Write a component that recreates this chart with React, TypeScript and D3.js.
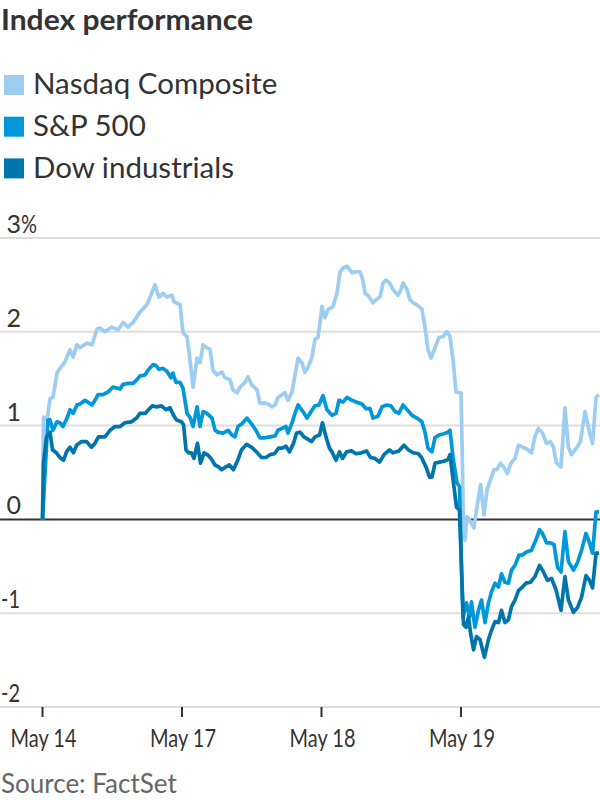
import React from 'react';
import * as d3 from 'd3';

// Trading-day index (0 = May 14 open, 1 = May 17 open, ...) and % change
const dayLabels = ['May 14', 'May 17', 'May 18', 'May 19'];
const dayIndex = [0, 1, 2, 3];
const yTicks = [-2, -1, 0, 1, 2, 3];
const seriesNames = ['Nasdaq Composite', 'S&P 500', 'Dow industrials'];
const seriesColors = ['#9dcdf0', '#0098da', '#0075ab'];

const nasdaq: [number, number][] = [
  [0, 0], [0.007, 1.09], [0.032, 1.06], [0.054, 1.29], [0.075, 1.30], [0.104, 1.56], [0.125, 1.61], [0.161, 1.68], [0.197, 1.81], [0.219, 1.73],
  [0.247, 1.86], [0.269, 1.83], [0.319, 1.88], [0.355, 1.86], [0.391, 2.03], [0.412, 2.04], [0.448, 2.00], [0.498, 2.05], [0.541, 2.02], [0.577, 2.10],
  [0.613, 2.05], [0.649, 2.10], [0.699, 2.21], [0.749, 2.29], [0.785, 2.42], [0.806, 2.50], [0.835, 2.37], [0.864, 2.41], [0.892, 2.37], [0.928, 2.39],
  [0.943, 2.32], [0.986, 2.29],
  [1.007, 1.99], [1.036, 1.95], [1.057, 1.70], [1.079, 1.41], [1.108, 1.72], [1.129, 1.67], [1.151, 1.86], [1.179, 1.83], [1.201, 1.81], [1.222, 1.59],
  [1.251, 1.54], [1.287, 1.57], [1.308, 1.51], [1.344, 1.49], [1.366, 1.38], [1.394, 1.35], [1.416, 1.41], [1.452, 1.46], [1.473, 1.52], [1.502, 1.43],
  [1.538, 1.38], [1.559, 1.24], [1.595, 1.24], [1.616, 1.23], [1.645, 1.20], [1.667, 1.22], [1.688, 1.30], [1.710, 1.32], [1.738, 1.35], [1.760, 1.27],
  [1.789, 1.36], [1.810, 1.54], [1.832, 1.72], [1.860, 1.67], [1.882, 1.57], [1.903, 1.62], [1.932, 1.73], [1.953, 1.92], [1.975, 1.94],
  [2.004, 2.27], [2.025, 2.15], [2.047, 2.24], [2.061, 2.25], [2.082, 2.27], [2.111, 2.41], [2.133, 2.64], [2.154, 2.68], [2.183, 2.70], [2.219, 2.63],
  [2.247, 2.64], [2.276, 2.64], [2.297, 2.55], [2.312, 2.41], [2.333, 2.39], [2.369, 2.31], [2.398, 2.35], [2.419, 2.37], [2.441, 2.52], [2.462, 2.55],
  [2.484, 2.53], [2.513, 2.45], [2.548, 2.39], [2.570, 2.45], [2.584, 2.52], [2.613, 2.45], [2.634, 2.34], [2.656, 2.31], [2.692, 2.28], [2.720, 2.24],
  [2.742, 2.05], [2.763, 1.81], [2.785, 1.72], [2.814, 1.83], [2.842, 1.94], [2.871, 1.95], [2.900, 2.00], [2.921, 1.95], [2.943, 1.70], [2.964, 1.36],
  [2.986, 1.35],
  [3.000, 1.35], [3.011, 0.54], [3.018, -0.19], [3.029, -0.22], [3.043, 0.03], [3.054, 0.01], [3.075, -0.04], [3.093, -0.09], [3.111, 0.10], [3.140, 0.37],
  [3.165, 0.05], [3.186, 0.31], [3.211, 0.42], [3.236, 0.53], [3.258, 0.53], [3.283, 0.60], [3.305, 0.56], [3.333, 0.49], [3.348, 0.56], [3.362, 0.61],
  [3.387, 0.65], [3.412, 0.79], [3.441, 0.77], [3.473, 0.75], [3.505, 0.71], [3.530, 0.88], [3.555, 0.97], [3.584, 0.92], [3.613, 0.81], [3.641, 0.83],
  [3.663, 0.77], [3.684, 0.60], [3.717, 0.56], [3.745, 1.19], [3.770, 0.77], [3.792, 0.69], [3.828, 0.76], [3.856, 0.83], [3.889, 1.15], [3.921, 0.93],
  [3.943, 0.81], [3.968, 1.30], [3.989, 1.33],
];

const sp500: [number, number][] = [
  [0, 0], [0.039, 1.06], [0.054, 1.06], [0.075, 0.95], [0.104, 1.04], [0.125, 1.03], [0.147, 0.99], [0.176, 1.08], [0.197, 1.17], [0.219, 1.13],
  [0.247, 1.22], [0.269, 1.23], [0.305, 1.27], [0.326, 1.25], [0.355, 1.22], [0.376, 1.27], [0.398, 1.33], [0.434, 1.33], [0.470, 1.36], [0.505, 1.41],
  [0.534, 1.40], [0.556, 1.39], [0.577, 1.44], [0.613, 1.45], [0.649, 1.45], [0.677, 1.49], [0.699, 1.53], [0.735, 1.54], [0.756, 1.59], [0.792, 1.65],
  [0.814, 1.64], [0.835, 1.60], [0.864, 1.61], [0.892, 1.58], [0.921, 1.51], [0.935, 1.56], [0.957, 1.46], [0.986, 1.46],
  [1.007, 1.40], [1.036, 1.13], [1.057, 1.09], [1.079, 0.99], [1.108, 1.20], [1.129, 0.99], [1.151, 1.15], [1.179, 1.13], [1.215, 1.08], [1.237, 0.95],
  [1.258, 0.93], [1.294, 0.92], [1.330, 0.95], [1.358, 0.90], [1.380, 0.88], [1.401, 0.99], [1.430, 1.02], [1.466, 1.08], [1.502, 1.01], [1.530, 0.95],
  [1.559, 0.87], [1.595, 0.87], [1.631, 0.88], [1.667, 0.89], [1.688, 0.95], [1.717, 0.97], [1.745, 0.99], [1.760, 0.92], [1.789, 1.03], [1.810, 1.13],
  [1.832, 1.22], [1.867, 1.15], [1.896, 1.08], [1.925, 1.15], [1.953, 1.21], [1.982, 1.22],
  [2.011, 1.32], [2.039, 1.17], [2.075, 1.11], [2.104, 1.13], [2.125, 1.27], [2.154, 1.25], [2.183, 1.30], [2.218, 1.27], [2.254, 1.25], [2.290, 1.23],
  [2.319, 1.18], [2.348, 1.18], [2.369, 1.08], [2.405, 1.10], [2.434, 1.20], [2.469, 1.22], [2.498, 1.21], [2.527, 1.15], [2.555, 1.13], [2.584, 1.22],
  [2.613, 1.17], [2.649, 1.11], [2.684, 1.08], [2.720, 1.04], [2.742, 0.93], [2.763, 0.76], [2.792, 0.72], [2.813, 0.87], [2.842, 0.90], [2.871, 0.91],
  [2.907, 0.93], [2.921, 0.95], [2.943, 0.66], [2.971, 0.39], [2.989, 0.35],
  [3.004, -0.54], [3.014, -1.04], [3.039, -0.89], [3.061, -1.04], [3.075, -0.88], [3.100, -1.15], [3.125, -0.97], [3.147, -0.86], [3.172, -1.10], [3.197, -0.89],
  [3.219, -0.77], [3.244, -0.68], [3.269, -0.72], [3.290, -0.58], [3.315, -0.67], [3.340, -0.68], [3.362, -0.54], [3.387, -0.49], [3.416, -0.38], [3.441, -0.38],
  [3.466, -0.35], [3.505, -0.33], [3.537, -0.22], [3.563, -0.11], [3.584, -0.15], [3.613, -0.25], [3.641, -0.25], [3.667, -0.27], [3.692, -0.51], [3.717, -0.56],
  [3.745, -0.13], [3.770, -0.45], [3.806, -0.54], [3.835, -0.46], [3.864, -0.33], [3.896, -0.15], [3.921, -0.25], [3.943, -0.36], [3.968, 0.08], [3.989, 0.08],
];

const dow: [number, number][] = [
  [0, 0], [0.007, 0.60], [0.029, 0.88], [0.054, 0.93], [0.072, 0.74], [0.100, 0.71], [0.125, 0.66], [0.151, 0.63], [0.172, 0.72], [0.197, 0.77],
  [0.222, 0.71], [0.244, 0.79], [0.280, 0.83], [0.315, 0.83], [0.351, 0.77], [0.376, 0.81], [0.401, 0.88], [0.448, 0.88], [0.484, 0.95], [0.520, 0.99],
  [0.556, 0.99], [0.591, 1.03], [0.638, 1.04], [0.674, 1.08], [0.699, 1.13], [0.735, 1.13], [0.760, 1.17], [0.788, 1.21], [0.817, 1.20], [0.853, 1.21],
  [0.885, 1.17], [0.914, 1.19], [0.939, 1.11], [0.961, 1.06], [0.996, 1.04],
  [1.011, 1.01], [1.029, 0.74], [1.047, 0.71], [1.068, 0.71], [1.086, 0.65], [1.111, 0.81], [1.133, 0.60], [1.158, 0.71], [1.183, 0.69], [1.208, 0.65],
  [1.237, 0.58], [1.262, 0.56], [1.283, 0.53], [1.315, 0.56], [1.340, 0.58], [1.369, 0.53], [1.405, 0.65], [1.426, 0.74], [1.462, 0.80], [1.498, 0.77],
  [1.534, 0.72], [1.570, 0.66], [1.602, 0.66], [1.631, 0.69], [1.663, 0.70], [1.692, 0.76], [1.720, 0.76], [1.745, 0.78], [1.770, 0.72], [1.799, 0.81],
  [1.821, 0.92], [1.846, 0.93], [1.874, 0.88], [1.907, 0.85], [1.928, 0.83], [1.953, 0.88], [1.986, 0.90],
  [2.007, 1.03], [2.032, 0.88], [2.057, 0.76], [2.075, 0.72], [2.104, 0.63], [2.129, 0.72], [2.151, 0.65], [2.179, 0.72], [2.215, 0.73], [2.247, 0.70],
  [2.287, 0.71], [2.323, 0.73], [2.351, 0.66], [2.383, 0.65], [2.416, 0.61], [2.448, 0.69], [2.487, 0.74], [2.512, 0.71], [2.555, 0.73], [2.591, 0.79],
  [2.624, 0.74], [2.659, 0.71], [2.695, 0.70], [2.717, 0.66], [2.749, 0.56], [2.774, 0.45], [2.792, 0.45], [2.814, 0.60], [2.846, 0.61], [2.878, 0.62],
  [2.907, 0.64], [2.921, 0.69], [2.946, 0.39], [2.968, 0.13], [2.989, 0.10],
  [3.004, -0.54], [3.018, -1.12], [3.036, -1.15], [3.054, -1.04], [3.068, -1.21], [3.090, -1.39], [3.111, -1.25], [3.136, -1.28], [3.168, -1.47], [3.197, -1.28],
  [3.219, -1.18], [3.244, -1.09], [3.269, -1.10], [3.290, -0.97], [3.315, -1.10], [3.340, -1.07], [3.362, -0.93], [3.387, -0.86], [3.412, -0.76], [3.434, -0.73],
  [3.466, -0.68], [3.498, -0.67], [3.530, -0.61], [3.563, -0.49], [3.591, -0.56], [3.620, -0.65], [3.649, -0.63], [3.681, -0.75], [3.717, -0.97], [3.745, -0.61],
  [3.770, -0.86], [3.806, -0.99], [3.835, -0.94], [3.864, -0.83], [3.896, -0.60], [3.921, -0.65], [3.943, -0.73], [3.968, -0.36], [3.989, -0.36],
];

const FONT = "Lato, 'Open Sans', sans-serif";
const TEXT = '#333333';

export default function App() {
  const W = 600;
  const H = 800;
  const x = d3.scaleLinear().domain([0, 4]).range([42.5, 600.5]);
  const y = d3.scaleLinear().domain([-2, 3]).range([707, 238]);
  const line = d3
    .line<[number, number]>()
    .x((d) => x(d[0]))
    .y((d) => y(d[1]));
  const series = [nasdaq, sp500, dow];

  return (
    <svg
      width={W}
      height={H}
      viewBox={`0 0 ${W} ${H}`}
      style={{ position: 'absolute', left: 0, top: 0, display: 'block', background: '#fff' }}
      fontFamily={FONT}
    >
      <text x={1} y={30} fontSize={28} fontWeight={700} fill={TEXT} textLength={252} lengthAdjust="spacingAndGlyphs">
        Index performance
      </text>

      {seriesNames.map((name, i) => (
        <g key={name}>
          <rect x={4} y={75 + i * 41.7} width={20} height={20} fill={seriesColors[i]} />
          <text x={33} y={94 + i * 42} fontSize={29.5} fill={TEXT}>
            {name}
          </text>
        </g>
      ))}

      {yTicks.filter((t) => t !== 0).map((t) => (
        <line key={'g' + t} x1={0} x2={W} y1={y(t)} y2={y(t)} stroke="#dddddd" strokeWidth={2} />
      ))}

      {yTicks.map((t) => (
        <g key={'l' + t}>
          {t < 0 ? (
            <text x={1} y={y(t) - 5} fontSize={25} fill={TEXT} textLength={19} lengthAdjust="spacingAndGlyphs">
              {t}
            </text>
          ) : (
            <text x={21} y={y(t) - 5} fontSize={25} fill={TEXT} textAnchor="end">
              {t}
            </text>
          )}
          {t === 3 && (
            <text x={21} y={y(t) - 5} fontSize={25} fill={TEXT} textLength={16} lengthAdjust="spacingAndGlyphs">
              %
            </text>
          )}
        </g>
      ))}

      <line x1={0} x2={W} y1={y(0)} y2={y(0)} stroke="#333333" strokeWidth={2} />

      {series.map((s, i) => (
        <path
          key={seriesNames[i]}
          d={line(s) || ''}
          fill="none"
          stroke={seriesColors[i]}
          strokeWidth={3.7}
          strokeLinejoin="round"
          strokeLinecap="butt"
        />
      ))}

      {dayIndex.map((d, i) => (
        <g key={dayLabels[i]}>
          <line x1={x(d)} x2={x(d)} y1={y(-2)} y2={y(-2) + 10} stroke="#333333" strokeWidth={2} />
          <text x={x(d) + 1} y={747} fontSize={25} fill={TEXT} textAnchor="middle" textLength={66} lengthAdjust="spacingAndGlyphs">
            {dayLabels[i]}
          </text>
        </g>
      ))}

      <text x={1} y={793} fontSize={26} fill="#666666">
        Source: FactSet
      </text>
    </svg>
  );
}
